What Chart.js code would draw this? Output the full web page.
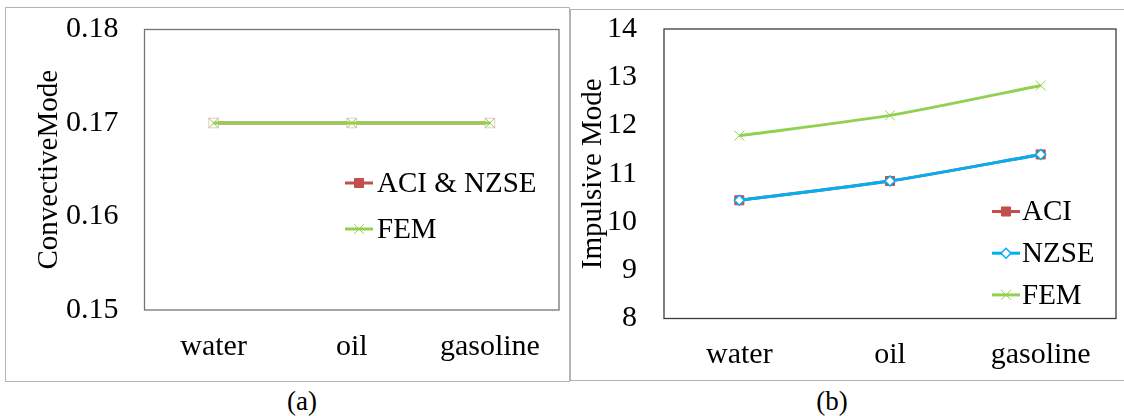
<!DOCTYPE html>
<html lang="en">
<head>
    <meta charset="UTF-8">
    <title>Convective and impulsive modes</title>
    <script src="https://cdn.jsdelivr.net/npm/chart.js"></script>
    <style>
        body {
            margin: 0;
            width: 1124px;
            height: 416px;
            overflow: hidden;
            background: #fff;
            font-family: "Times New Roman", "Liberation Serif", serif;
        }
        .frame {
            position: absolute;
            border: 1px solid #b4b4b4;
            box-sizing: border-box;
        }
        .panel {
            position: absolute;
        }
        .caption {
            position: absolute;
            top: 386px;
            width: 80px;
            margin-left: -40px;
            text-align: center;
            font-size: 27px;
            color: #000;
        }
    </style>
</head>
<body>
    <div class="frame" style="left:5px; top:7px; width:565px; height:375px;"></div>
    <div class="frame" style="left:570px; top:9px; width:560px; height:372px;"></div>

    <div class="panel" style="left:5px; top:7px; width:564px; height:374px;">
        <canvas id="convChart" width="564" height="374"></canvas>
    </div>
    <div class="panel" style="left:571px; top:9px; width:553px; height:371px;">
        <canvas id="impChart" width="553" height="371"></canvas>
    </div>

    <div class="caption" style="left:302px;">(a)</div>
    <div class="caption" style="left:832px;">(b)</div>

    <script>
        // fluids on the x axis
        const fluids = ["water", "oil", "gasoline"];

        // (a) convective mode
        const convAciNzse = [0.17, 0.17, 0.17];
        const convFem = [0.17, 0.17, 0.17];

        // (b) impulsive mode
        const impAci = [10.45, 10.85, 11.40];
        const impNzse = [10.45, 10.85, 11.40];
        const impFem = [11.79, 12.21, 12.83];

        const SERIF = "'Times New Roman', 'Liberation Serif', serif";
        const RED = "#c0504d";
        const BLUE = "#00b0f0";
        const GREEN = "#92d050";

        // marker looks shared by lines and legend
        const markers = {
            aci:  { pointStyle: "rect",     radius: 6.4, fill: RED,    stroke: RED,   borderWidth: 1 },
            nzse: { pointStyle: "rectRot",  radius: 5,   fill: "#fff", stroke: BLUE,  borderWidth: 1.5 },
            fem:  { pointStyle: "crossRot", radius: 7,   fill: GREEN,  stroke: GREEN, borderWidth: 1 }
        };

        function lineSet(label, data, color, m, order) {
            return {
                label: label,
                data: data,
                borderColor: color,
                borderWidth: 3,
                tension: 0.25,
                order: order,
                pointStyle: m.pointStyle,
                pointRadius: m.radius,
                pointBackgroundColor: m.fill,
                pointBorderColor: m.stroke,
                pointBorderWidth: m.borderWidth,
                legendMarker: m
            };
        }

        // box round the plot area
        function plotBox(color) {
            return {
                id: "plotBox",
                beforeDatasetsDraw(chart) {
                    const a = chart.chartArea;
                    const ctx = chart.ctx;
                    ctx.save();
                    ctx.strokeStyle = color;
                    ctx.lineWidth = 1.3;
                    ctx.strokeRect(a.left, a.top, a.right - a.left, a.bottom - a.top);
                    ctx.restore();
                }
            };
        }

        // Excel-style legend drawn inside the plot area: line sample, marker, text
        function insideLegend(dx, dy, rowGap, sampleW, textGap) {
            return {
                id: "insideLegend",
                afterDraw(chart) {
                    const ctx = chart.ctx;
                    const a = chart.chartArea;
                    ctx.save();
                    chart.data.datasets.forEach((ds, i) => {
                        const x = a.left + dx;
                        const y = a.top + dy + i * rowGap;
                        ctx.strokeStyle = ds.borderColor;
                        ctx.lineWidth = 3;
                        ctx.beginPath();
                        ctx.moveTo(x, y);
                        ctx.lineTo(x + sampleW, y);
                        ctx.stroke();

                        const m = ds.legendMarker;
                        ctx.fillStyle = m.fill;
                        ctx.strokeStyle = m.stroke;
                        ctx.lineWidth = m.borderWidth;
                        Chart.helpers.drawPoint(ctx, {
                            pointStyle: m.pointStyle,
                            radius: m.radius,
                            rotation: 0,
                            borderWidth: m.borderWidth
                        }, x + sampleW / 2, y);

                        ctx.fillStyle = "#000";
                        ctx.font = "29px " + SERIF;
                        ctx.textAlign = "left";
                        ctx.textBaseline = "middle";
                        ctx.fillText(ds.label, x + sampleW + textGap, y + 1);
                    });
                    ctx.restore();
                }
            };
        }

        // the chart area is set by the layout padding and the fixed axis sizes,
        // so the edge-label padding the scales ask for is dropped
        function noEdgePadding(s) {
            s.paddingTop = 0;
            s.paddingBottom = 0;
            s.paddingLeft = 0;
            s.paddingRight = 0;
        }

        function makeOptions(o) {
            return {
                responsive: false,
                animation: false,
                layout: { padding: { top: o.padTop, right: o.padRight, left: 0, bottom: 0 } },
                plugins: {
                    legend: { display: false },
                    tooltip: { enabled: false }
                },
                scales: {
                    x: {
                        offset: true,
                        grid: { display: false, drawTicks: false },
                        border: { display: false },
                        ticks: { color: "#000", padding: o.xPad, font: { family: SERIF, size: 30 } },
                        afterFit: s => { s.height = o.xHeight; noEdgePadding(s); }
                    },
                    y: {
                        min: o.min,
                        max: o.max,
                        grid: { display: false, drawTicks: false },
                        border: { display: false },
                        ticks: {
                            stepSize: o.step,
                            color: "#000",
                            padding: o.yPad,
                            font: { family: SERIF, size: 30 },
                            callback: v => Number(v).toFixed(o.decimals)
                        },
                        title: {
                            display: true,
                            text: o.title,
                            color: "#000",
                            padding: { top: o.titlePad, bottom: 0 },
                            font: { family: SERIF, size: 29 }
                        },
                        afterFit: s => { s.width = o.yWidth; noEdgePadding(s); }
                    }
                }
            };
        }

        // (a) convective mode; the ACI & NZSE line sits under the FEM line
        const hiddenRed = Object.assign({}, markers.aci, { fill: "rgba(255,255,255,0.9)", stroke: "rgba(192,80,77,0.3)", radius: 6.8 });
        const convAciSet = lineSet("ACI & NZSE", convAciNzse, RED, hiddenRed, 2);
        convAciSet.legendMarker = markers.aci;

        new Chart(document.getElementById("convChart").getContext("2d"), {
            type: "line",
            data: {
                labels: fluids,
                datasets: [
                    convAciSet,
                    lineSet("FEM", convFem, GREEN, markers.fem, 1)
                ]
            },
            options: makeOptions({
                padTop: 22.5, padRight: 10, xHeight: 71, yWidth: 139.5,
                xPad: 19, yPad: 26, titlePad: 27,
                min: 0.15, max: 0.18, step: 0.01, decimals: 2,
                title: "ConvectiveMode"
            }),
            plugins: [plotBox("#747474"), insideLegend(200.5, 153.5, 46, 28, 4)]
        });

        // (b) impulsive mode
        new Chart(document.getElementById("impChart").getContext("2d"), {
            type: "line",
            data: {
                labels: fluids,
                datasets: [
                    lineSet("ACI", impAci, RED, markers.aci, 3),
                    lineSet("NZSE", impNzse, BLUE, markers.nzse, 2),
                    lineSet("FEM", impFem, GREEN, markers.fem, 1)
                ]
            },
            options: makeOptions({
                padTop: 20, padRight: 2, xHeight: 61.5, yWidth: 93,
                xPad: 19, yPad: 27, titlePad: 5,
                min: 8, max: 14, step: 1, decimals: 0,
                title: "Impulsive Mode"
            }),
            plugins: [plotBox("#3c3c3c"), insideLegend(328, 182.5, 41.7, 28, 2)]
        });
    </script>
</body>
</html>
